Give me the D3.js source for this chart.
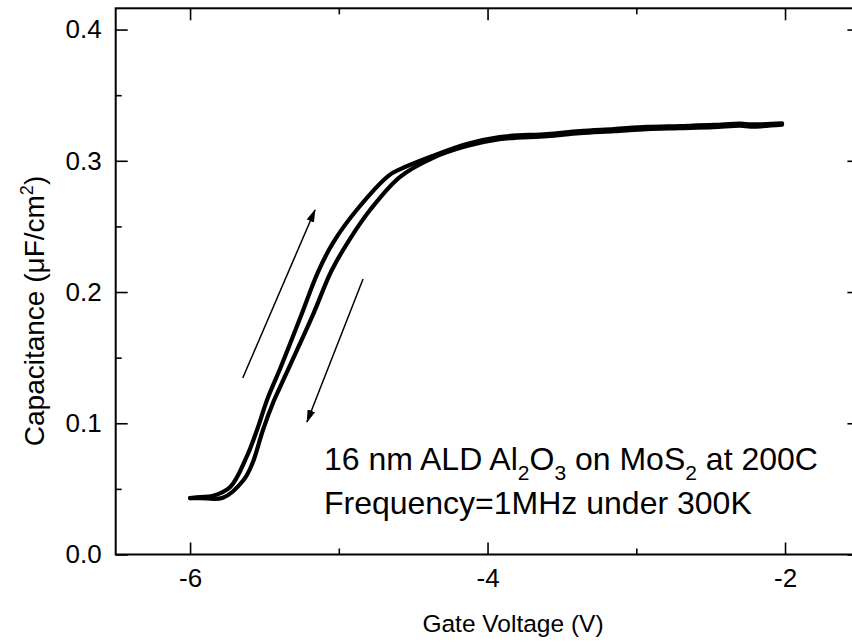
<!DOCTYPE html>
<html>
<head>
<meta charset="utf-8">
<script src="https://cdn.jsdelivr.net/npm/d3@7"></script>
<style>
  body { margin: 0; background: #fff; }
  svg { display: block; font-family: Arial, "Liberation Sans", sans-serif; }
</style>
</head>
<body>
<div id="chart"></div>
<script>
// forward sweep (left branch), gate voltage in V and capacitance in uF/cm2
const upV = [-6.00, -5.93, -5.85, -5.73, -5.62, -5.55, -5.48, -5.39, -5.26, -5.14, -5.04, -4.88, -4.66, -4.59,
  -4.37, -4.14, -3.92, -3.60, -3.38, -3.15, -2.93, -2.71, -2.48, -2.30, -2.23, -2.02];
const upC = [0.0430, 0.0438, 0.0446, 0.0514, 0.0743, 0.0949, 0.1185, 0.1429, 0.1802, 0.2152, 0.2373, 0.2625, 0.2891, 0.2935,
  0.3037, 0.3128, 0.3181, 0.3204, 0.3227, 0.3242, 0.3258, 0.3265, 0.3273, 0.3284, 0.3277, 0.3285];

// reverse sweep (right branch)
const downV = [-6.00, -5.93, -5.78, -5.64, -5.58, -5.51, -5.44, -5.395, -5.18, -5.05, -4.93, -4.79, -4.59,
  -4.37, -4.14, -3.92, -3.60, -3.38, -3.15, -2.93, -2.71, -2.48, -2.30, -2.23, -2.02];
const downC = [0.0430, 0.0430, 0.0432, 0.0568, 0.0697, 0.0949, 0.1162, 0.1276, 0.1810, 0.2160, 0.2396, 0.2625, 0.2876,
  0.3021, 0.3112, 0.3165, 0.3188, 0.3211, 0.3226, 0.3242, 0.3249, 0.3257, 0.3268, 0.3261, 0.3275];

const xMajor = [-6, -4, -2];
const xMinor = [-5, -3];
const yMajor = [0.0, 0.1, 0.2, 0.3, 0.4];
const yMinor = [0.05, 0.15, 0.25, 0.35];

// sweep direction arrows: [V, C] tail -> tip
const arrowUp = [[-5.646, 0.1345], [-5.160, 0.2625]];
const arrowDown = [[-4.837, 0.2099], [-5.214, 0.1010]];

const W = 852, H = 642;
const margin = { top: 8.3, left: 115.7 };
const width = 743.7;   // right frame falls just outside the window
const height = 546.2;

const x = d3.scaleLinear().domain([-6.5, -1.5]).range([0, width]);
const y = d3.scaleLinear().domain([0, 0.4162]).range([height, 0]);

const svg = d3.select('#chart').append('svg')
  .attr('width', W).attr('height', H);

svg.append('defs').append('marker')
  .attr('id', 'head')
  .attr('viewBox', '0 0 13 8')
  .attr('refX', 12).attr('refY', 4)
  .attr('markerWidth', 13).attr('markerHeight', 8)
  .attr('markerUnits', 'userSpaceOnUse')
  .attr('orient', 'auto')
  .append('path').attr('d', 'M0,0 L13,4 L0,8 Z').attr('fill', '#000');

const g = svg.append('g').attr('transform', `translate(${margin.left},${margin.top})`);

// ticks pointing inward on all four sides
const tickStyle = sel => {
  sel.select('.domain').remove();
  sel.selectAll('line').attr('stroke', '#000').attr('stroke-width', 1.6);
  sel.selectAll('text').attr('fill', '#000').attr('font-size', 26);
};

g.append('g').attr('transform', `translate(0,${height})`)
  .call(d3.axisBottom(x).tickValues(xMajor).tickSize(-12).tickPadding(14).tickFormat(d => String(d)))
  .call(tickStyle);
g.append('g').attr('transform', `translate(0,${height})`)
  .call(d3.axisBottom(x).tickValues(xMinor).tickSize(-6).tickFormat(''))
  .call(tickStyle);
g.append('g')
  .call(d3.axisTop(x).tickValues(xMajor).tickSize(-12).tickFormat(''))
  .call(tickStyle);
g.append('g')
  .call(d3.axisTop(x).tickValues(xMinor).tickSize(-6).tickFormat(''))
  .call(tickStyle);

g.append('g')
  .call(d3.axisLeft(y).tickValues(yMajor).tickSize(-12).tickPadding(14).tickFormat(d3.format('.1f')))
  .call(tickStyle);
g.append('g')
  .call(d3.axisLeft(y).tickValues(yMinor).tickSize(-6).tickFormat(''))
  .call(tickStyle);
g.append('g').attr('transform', `translate(${width},0)`)
  .call(d3.axisRight(y).tickValues(yMajor).tickSize(-12).tickFormat(''))
  .call(tickStyle);
g.append('g').attr('transform', `translate(${width},0)`)
  .call(d3.axisRight(y).tickValues(yMinor).tickSize(-6).tickFormat(''))
  .call(tickStyle);

// frame
g.append('rect')
  .attr('width', width).attr('height', height)
  .attr('fill', 'none').attr('stroke', '#000').attr('stroke-width', 2);

// curves
const line = d3.line()
  .x(d => x(d[0])).y(d => y(d[1]))
  .curve(d3.curveCatmullRom.alpha(0.5));

const upData = upV.map((v, i) => [v, upC[i]]);
const downData = downV.map((v, i) => [v, downC[i]]);

[upData, downData].forEach(d => {
  g.append('path')
    .datum(d)
    .attr('fill', 'none')
    .attr('stroke', '#000')
    .attr('stroke-width', 4.2)
    .attr('stroke-linecap', 'round')
    .attr('stroke-linejoin', 'round')
    .attr('d', line);
});

// arrows
[arrowUp, arrowDown].forEach(a => {
  g.append('line')
    .attr('x1', x(a[0][0])).attr('y1', y(a[0][1]))
    .attr('x2', x(a[1][0])).attr('y2', y(a[1][1]))
    .attr('stroke', '#000').attr('stroke-width', 1.5)
    .attr('marker-end', 'url(#head)');
});

// annotation
const note = g.append('text')
  .attr('x', x(-5.10)).attr('y', y(0.0644))
  .attr('font-size', 32).attr('fill', '#000');
note.append('tspan').text('16 nm ALD Al');
note.append('tspan').attr('dy', 10).attr('font-size', 21).text('2');
note.append('tspan').attr('dy', -10).text('O');
note.append('tspan').attr('dy', 10).attr('font-size', 21).text('3');
note.append('tspan').attr('dy', -10).text(' on MoS');
note.append('tspan').attr('dy', 10).attr('font-size', 21).text('2');
note.append('tspan').attr('dy', -10).text(' at 200C');

g.append('text')
  .attr('x', x(-5.10)).attr('y', y(0.0312))
  .attr('font-size', 32).attr('fill', '#000')
  .text('Frequency=1MHz under 300K');

// axis titles
svg.append('text')
  .attr('x', 513).attr('y', 632)
  .attr('text-anchor', 'middle')
  .attr('font-size', 24.5).attr('fill', '#000')
  .text('Gate Voltage (V)');

const yt = svg.append('text')
  .attr('transform', 'translate(44,311) rotate(-90)')
  .attr('text-anchor', 'middle')
  .attr('font-size', 28).attr('fill', '#000');
yt.append('tspan').text('Capacitance (\u03bcF/cm');
yt.append('tspan').attr('dy', -11).attr('font-size', 18).text('2');
yt.append('tspan').attr('dy', 11).text(')');
</script>
</body>
</html>
